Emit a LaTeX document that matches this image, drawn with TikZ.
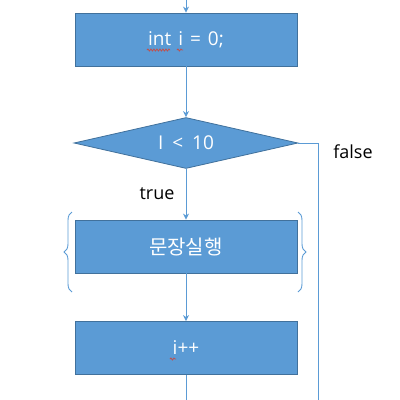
\documentclass[tikz,border=0pt]{standalone}
\usepackage{fontspec}
\setmainfont{Open Sans}
\newfontfamily\krfont{Noto Sans CJK KR}
\usetikzlibrary{arrows.meta,decorations.pathreplacing,decorations.pathmorphing,shapes.geometric}
\definecolor{boxfill}{HTML}{5B9BD5}
\definecolor{boxline}{HTML}{41719C}
\definecolor{flow}{HTML}{5B9BD5}
\definecolor{squig}{HTML}{C0504D}
\newcommand\myboxfont{\fontsize{19}{21}\selectfont\spaceskip=7pt\relax}
\newcommand\mydecfont{\fontsize{19}{21}\selectfont\spaceskip=9pt\relax}
\tikzset{
  procbox/.style={rectangle, fill=boxfill, draw=boxline, line width=0.8pt, minimum width=222pt, minimum height=53pt, inner sep=0pt, text=white, font=\myboxfont},
  decbox/.style={diamond, fill=boxfill, draw=boxline, line width=0.8pt, minimum width=224pt, minimum height=51pt, aspect=4.4, inner sep=0pt, text=white, font=\mydecfont},
  flowline/.style={draw=flow, line width=1pt},
  flowarrow/.style={flowline, -{Stealth[length=6pt,width=6pt]}},
  lbl/.style={text=black, font=\fontsize{18}{20}\selectfont},
  bracestyle/.style={draw=flow, line width=0.9pt, decorate, decoration={brace, amplitude=8pt}},
  wavy/.style={draw=squig, line width=0.8pt, decorate, decoration={snake, amplitude=1pt, segment length=3pt}}
}
\begin{document}
\begin{tikzpicture}[x=1pt,y=-1pt]
\useasboundingbox (0,0) rectangle (400,400);
\coordinate (top) at (186,0);
\node[procbox] (init) at (186,39.5) {int i = 0;};
\node[decbox] (cond) at (186,143) {I < 10};
\node[procbox] (body) at (186,246.5) {\krfont\fontsize{20}{22}\selectfont 문장실행};
\node[procbox] (incr) at (186,348) {i++};
\coordinate (bottom) at (186,400);
\coordinate (fcorner) at (318,143);
\coordinate (fend) at (318,400);
\node[lbl] (tlabel) at (157,194) {true};
\node[lbl] (flabel) at (353,152) {false};
\draw[flowarrow] (top) -- (init.north);
\draw[flowarrow] (init.south) -- (cond.north);
\draw[flowarrow] (cond.south) -- (body.north);
\draw[flowarrow] (body.south) -- (incr.north);
\draw[flowline] (incr.south) -- (bottom);
\draw[flowline] (cond.east) -- (fcorner) -- (fend);
\draw[bracestyle] (72,292) -- (72,212);
\draw[bracestyle] (298,212) -- (298,292);
\draw[wavy] (147,50) -- (170,50);
\draw[wavy] (177,50) -- (183,50);
\draw[wavy] (170,359) -- (176,359);
\end{tikzpicture}
\end{document}
